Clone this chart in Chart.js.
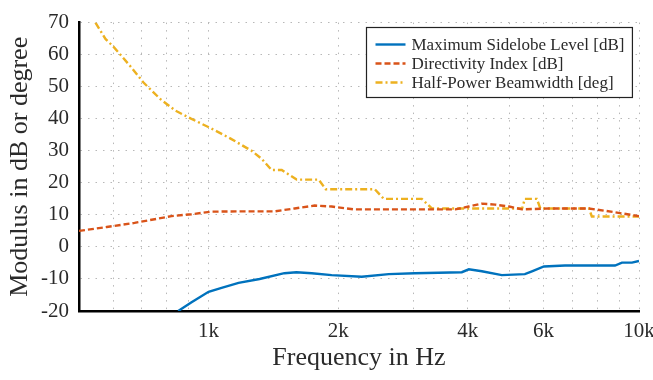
<!DOCTYPE html>
<html>
<head>
<meta charset="utf-8">
<script src="https://cdn.jsdelivr.net/npm/chart.js@4/dist/chart.umd.min.js"></script>
<style>
html,body{margin:0;padding:0;background:#fff;}
#wrap{width:653px;height:380px;}
</style>
</head>
<body>
<div id="wrap"><canvas id="c" width="653" height="380"></canvas></div>
<script>
// ---- data ----
const seriesLabels = ['Maximum Sidelobe Level [dB]', 'Directivity Index [dB]', 'Half-Power Beamwidth [deg]'];

const sidelobeFreq   = [850, 913, 1000, 1072, 1174, 1314, 1500, 1600, 1736, 1932, 2269, 2622, 3013, 3876, 4024, 4314, 4800, 5431, 5640, 6013, 6730, 8795, 9130, 9630, 10000];
const sidelobeValues = [-20, -17.3, -14.0, -12.8, -11.2, -10.0, -8.2, -7.9, -8.2, -8.8, -9.3, -8.5, -8.2, -7.9, -7.0, -7.6, -8.8, -8.5, -7.6, -6.1, -5.8, -5.8, -4.9, -4.9, -4.4];

const directivityFreq   = [500, 580, 673, 820, 913, 1016, 1174, 1424, 1585, 1764, 1932, 2186, 3740, 4020, 4310, 4630, 4990, 5350, 6180, 7650, 8800, 10000];
const directivityValues = [5.0, 6.2, 7.5, 9.6, 10.2, 11.0, 11.1, 11.1, 12.0, 12.9, 12.6, 11.7, 11.7, 12.6, 13.5, 13.2, 12.6, 11.7, 12.0, 12.0, 10.8, 9.6];

const beamwidthFreq   = [546, 576, 601, 658, 706, 773, 838, 908, 1010, 1125, 1259, 1328, 1401, 1479, 1602, 1803, 1871, 2433, 2553, 3128, 3301, 5350, 5430, 5790, 5900, 7650, 7770, 10000];
const beamwidthValues = [70, 64.9, 62.5, 56.4, 51.3, 46.1, 42.5, 40.1, 37.1, 33.8, 30, 27.5, 24, 24, 21, 21, 18, 18, 15, 15, 12, 12, 15, 15, 12, 12, 9.5, 9.5];

const xTickValues = [500, 600, 700, 800, 900, 1000, 2000, 3000, 4000, 5000, 6000, 7000, 8000, 9000, 10000];
const xTickLabels = {1000: '1k', 2000: '2k', 4000: '4k', 6000: '6k', 10000: '10k'};
const yMin = -20, yMax = 70, yStep = 10;
const xTitle = 'Frequency in Hz';
const yTitle = 'Modulus in dB or degree';

const SERIF = '"Liberation Serif", "Times New Roman", serif';
const TXT = '#2a2a2a';

function pts(xs, ys) { return xs.map((x, i) => ({x: x, y: ys[i]})); }

const legendBox = {
  id: 'legendBox',
  afterDatasetsDraw(chart) {
    const {ctx, chartArea} = chart;
    const ds = chart.data.datasets;
    ctx.save();
    ctx.font = '17px ' + SERIF;
    const textW = Math.max(...ds.map(d => ctx.measureText(d.label).width));
    const w = 45 + textW + 8;
    const h = 70;
    const x0 = Math.round(chartArea.right - 7 - w) + 0.5;
    const y0 = Math.round(chartArea.top + 4) + 0.5;
    ctx.fillStyle = '#fff';
    ctx.fillRect(x0, y0, w, h);
    ctx.strokeStyle = '#222';
    ctx.lineWidth = 1.2;
    ctx.strokeRect(x0, y0, w, h);
    ds.forEach((d, i) => {
      const y = y0 + 17 + i * 19;
      ctx.beginPath();
      ctx.setLineDash(d.borderDash || []);
      ctx.strokeStyle = d.borderColor;
      ctx.lineWidth = d.borderWidth;
      ctx.moveTo(x0 + 9, y);
      ctx.lineTo(x0 + 39, y);
      ctx.stroke();
      ctx.setLineDash([]);
      ctx.fillStyle = TXT;
      ctx.textBaseline = 'middle';
      ctx.textAlign = 'left';
      ctx.fillText(d.label, x0 + 45, y + 1);
    });
    ctx.restore();
  }
};

new Chart(document.getElementById('c'), {
  type: 'line',
  data: {
    datasets: [
      {label: seriesLabels[0], data: pts(sidelobeFreq, sidelobeValues), borderColor: '#0072BD', borderWidth: 2.4, borderDash: [], pointRadius: 0, tension: 0, fill: false},
      {label: seriesLabels[1], data: pts(directivityFreq, directivityValues), borderColor: '#D95319', borderWidth: 2.4, borderDash: [6, 3], pointRadius: 0, tension: 0, fill: false},
      {label: seriesLabels[2], data: pts(beamwidthFreq, beamwidthValues), borderColor: '#EDB120', borderWidth: 2.4, borderDash: [7, 3, 2, 3], pointRadius: 0, tension: 0, fill: false}
    ]
  },
  options: {
    responsive: false,
    animation: false,
    devicePixelRatio: 1,
    layout: {padding: {top: 13, right: 14, left: 0, bottom: 0}},
    plugins: {legend: {display: false}, tooltip: {enabled: false}},
    scales: {
      x: {
        type: 'logarithmic',
        min: 500,
        max: 10000,
        afterBuildTicks(scale) { scale.ticks = xTickValues.map(v => ({value: v})); },
        afterFit(scale) { scale.height = 69; scale.paddingLeft = 0; scale.paddingRight = 0; },
        ticks: {
          autoSkip: false, maxRotation: 0, minRotation: 0, padding: 8,
          color: TXT, font: {family: SERIF, size: 21},
          callback(value) { return xTickLabels[value] || ''; }
        },
        grid: {color: '#b8b8b8', lineWidth: 1, drawTicks: false},
        border: {display: true, color: '#000', width: 2.5, dash: [1.5, 6]},
        title: {display: true, text: xTitle, color: TXT, font: {family: SERIF, size: 26}, padding: {top: 0, bottom: 6}}
      },
      y: {
        type: 'linear',
        min: yMin,
        max: yMax,
        afterFit(scale) { scale.width = 79; },
        ticks: {stepSize: yStep, padding: 10, color: TXT, font: {family: SERIF, size: 21}},
        grid: {color: '#b8b8b8', lineWidth: 1, drawTicks: false},
        border: {display: true, color: '#000', width: 2.5, dash: [1.5, 6]},
        title: {display: true, text: yTitle, color: TXT, font: {family: SERIF, size: 26}, padding: {top: 5, bottom: 0}}
      }
    }
  },
  plugins: [legendBox]
});
</script>
</body>
</html>
